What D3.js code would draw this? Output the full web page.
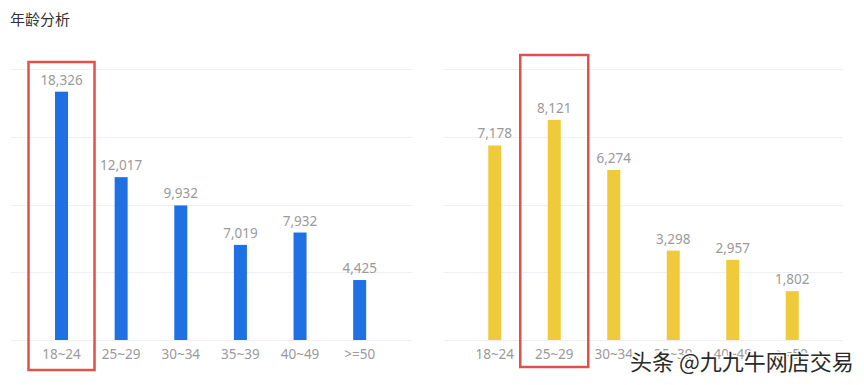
<!DOCTYPE html>
<meta charset="utf-8">
<style>
  body { margin: 0; background: #fff; }
  text { font-family: "Noto Sans", "Noto Sans CJK SC", sans-serif; }
  .grid line { stroke: #eef0f6; stroke-width: 1; }
  .val, .cat { fill: #9a9a9a; font-size: 13.5px; }
</style>
<body>
<script src="https://d3js.org/d3.v7.min.js"></script>
<script>
var categories = ["18~24", "25~29", "30~34", "35~39", "40~49", ">=50"];
var leftValues = [18326, 12017, 9932, 7019, 7932, 4425];
var rightValues = [7178, 8121, 6274, 3298, 2957, 1802];
var leftTicks = [0, 5000, 10000, 15000, 20000];
var rightTicks = [0, 2500, 5000, 7500, 10000];

var width = 864, height = 385;
var svg = d3.select("body").append("svg")
    .attr("width", width)
    .attr("height", height);

svg.append("text")
   .attr("x", 10)
   .attr("y", 25)
   .style("font-family", "'Noto Sans CJK SC'")
   .style("font-size", "15px")
   .style("fill", "#333")
   .text("年龄分析");

var fmt = d3.format(",");

function panel(values, ticks, color, gridX, barX, hiIdx, box) {
  var y = d3.scaleLinear().domain([0, ticks[ticks.length - 1]]).range([340, 69]);
  var x = d3.scalePoint().domain(categories).range(barX).padding(0.5);
  var bw = 13;

  svg.append("g").attr("class", "grid")
     .selectAll("line")
     .data(ticks)
     .enter().append("line")
     .attr("x1", gridX[0]).attr("x2", gridX[1])
     .attr("y1", function(d) { return Math.round(y(d)) + 0.5; })
     .attr("y2", function(d) { return Math.round(y(d)) + 0.5; });

  svg.append("g")
     .selectAll("rect")
     .data(values)
     .enter().append("rect")
     .attr("x", function(d, i) { return x(categories[i]) - bw / 2; })
     .attr("y", function(d) { return y(d); })
     .attr("width", bw)
     .attr("height", function(d) { return y(0) - y(d); })
     .style("fill", color);

  svg.append("g")
     .selectAll("text")
     .data(values)
     .enter().append("text")
     .attr("class", "val")
     .attr("x", function(d, i) { return x(categories[i]); })
     .attr("y", function(d) { return y(d) - 7; })
     .attr("text-anchor", "middle")
     .text(function(d) { return fmt(d); });

  svg.append("g")
     .selectAll("text")
     .data(categories)
     .enter().append("text")
     .attr("class", "cat")
     .attr("x", function(d) { return x(d); })
     .attr("y", 359)
     .attr("text-anchor", "middle")
     .text(function(d) { return d; });

  // red highlight box around one column
  var cx = x(categories[hiIdx]);
  svg.append("rect")
     .attr("x", cx - box.w / 2)
     .attr("y", box.top)
     .attr("width", box.w)
     .attr("height", box.bottom - box.top)
     .style("fill", "none")
     .style("stroke", "#e2504a")
     .style("stroke-width", 2.5);
}

panel(leftValues, leftTicks, "#1f70e2", [11, 412], [31.7, 389.5], 0,
      { w: 66, top: 62, bottom: 370 });
panel(rightValues, rightTicks, "#efca3b", [444, 843], [465, 822], 1,
      { w: 68, top: 55, bottom: 367 });

// site watermark over the bottom-right labels
svg.append("text")
   .attr("x", 630)
   .attr("y", 370)
   .style("font-family", "'Noto Sans CJK SC'")
   .style("font-size", "22px")
   .style("fill", "#2a2a2a")
   .style("stroke", "#fff")
   .style("stroke-width", 3)
   .style("paint-order", "stroke")
   .text("头条 @九九牛网店交易");
</script>
</body>
